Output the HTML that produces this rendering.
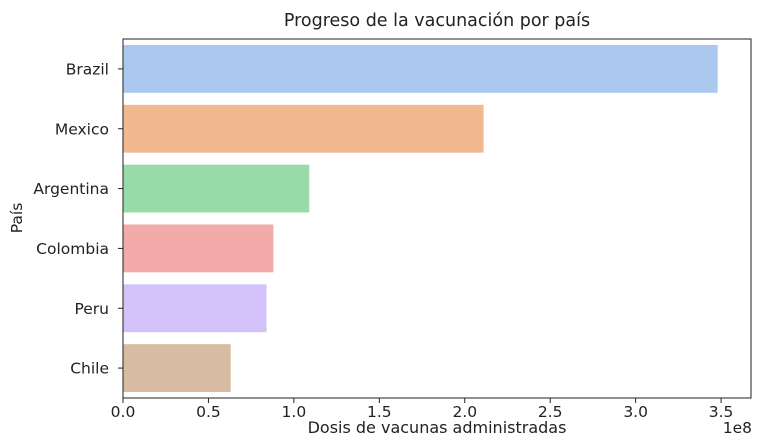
<!DOCTYPE html>
<html><head><meta charset="utf-8"><style>
body{margin:0;background:#fff;font-family:"DejaVu Sans","Liberation Sans",sans-serif}
svg text{font-family:"DejaVu Sans","Liberation Sans",sans-serif;fill:#222}
</style></head><body>
<svg id="chart" width="761" height="440" xmlns="http://www.w3.org/2000/svg">
<text x="437" y="26" font-size="17.5" text-anchor="middle">Progreso de la vacunación por país</text>
<g id="bars"></g><g id="ticks"></g>
<rect x="123" y="39" width="628" height="359" fill="none" stroke="#222" stroke-width="1"/>
<text x="437" y="433" font-size="16" text-anchor="middle">Dosis de vacunas administradas</text>
<text x="752" y="433" font-size="15.5" text-anchor="end">1e8</text>
<text transform="translate(22,218) rotate(-90)" font-size="15.5" text-anchor="middle">País</text>
</svg>
<script>
const categories=["Brazil","Mexico","Argentina","Colombia","Peru","Chile"];
const values=[3.48,2.11,1.09,0.88,0.84,0.63];
const xTicks=[0,0.5,1.0,1.5,2.0,2.5,3.0,3.5];
const xTickLabels=["0.0","0.5","1.0","1.5","2.0","2.5","3.0","3.5"];
const colors=["#abc9ee","#f1b892","#98dba8","#f2aba8","#d3c3f8","#d8bca2"];
const NS="http://www.w3.org/2000/svg";
const L=123,R=751,T=39,B=398,XMAX=3.675;
const x=v=>L+v/XMAX*(R-L);
const band=(B-T)/categories.length;
const yc=i=>T+band*(i+0.5);
const gb=document.getElementById('bars'),gt=document.getElementById('ticks');
categories.forEach((c,i)=>{
 const r=document.createElementNS(NS,'rect');
 r.setAttribute('x',L);r.setAttribute('y',yc(i)-band*0.4);
 r.setAttribute('width',x(values[i])-L);r.setAttribute('height',band*0.8);
 r.setAttribute('fill',colors[i]);
 
 
 gb.appendChild(r);
 const l=document.createElementNS(NS,'line');
 l.setAttribute('x1',L-5);l.setAttribute('x2',L);l.setAttribute('y1',yc(i));l.setAttribute('y2',yc(i));l.setAttribute('stroke','#222');
 gt.appendChild(l);
 const t=document.createElementNS(NS,'text');
 t.setAttribute('x',L-14);t.setAttribute('y',yc(i)+5.5);t.setAttribute('text-anchor','end');t.setAttribute('font-size','15.5');
 t.textContent=c;
 
 
 gt.appendChild(t);
});
xTicks.forEach((v,i)=>{
 const l=document.createElementNS(NS,'line');
 l.setAttribute('x1',x(v));l.setAttribute('x2',x(v));l.setAttribute('y1',B);l.setAttribute('y2',B+5);l.setAttribute('stroke','#222');
 gt.appendChild(l);
 const t=document.createElementNS(NS,'text');
 t.setAttribute('x',x(v));t.setAttribute('y',B+19);t.setAttribute('text-anchor','middle');t.setAttribute('font-size','15.5');
 t.textContent=xTickLabels[i];
 
 
 gt.appendChild(t);
});
</script>
</body></html>
